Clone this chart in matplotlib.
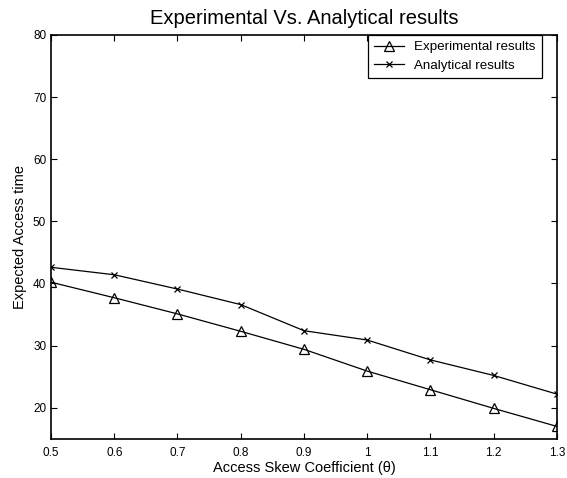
import matplotlib
matplotlib.use('Agg')
import matplotlib.pyplot as plt

plt.rcParams['font.family'] = ['Liberation Sans', 'DejaVu Sans']

# data
theta = [0.5, 0.6, 0.7, 0.8, 0.9, 1.0, 1.1, 1.2, 1.3]
experimental = [40.2, 37.7, 35.1, 32.3, 29.4, 25.9, 22.9, 19.9, 17.0]
analytical = [42.6, 41.4, 39.1, 36.6, 32.4, 30.9, 27.7, 25.2, 22.2]
xticks = [0.5, 0.6, 0.7, 0.8, 0.9, 1.0, 1.1, 1.2, 1.3]
xticklabels = ['0.5', '0.6', '0.7', '0.8', '0.9', '1', '1.1', '1.2', '1.3']
yticks = [20, 30, 40, 50, 60, 70, 80]

fig = plt.figure(figsize=(5.67, 4.78), dpi=100)
ax = fig.add_axes([0.09, 0.082, 0.892, 0.845])

ax.plot(theta, experimental, color='black', lw=0.9, marker='^', ms=6.5,
        mfc='none', mec='black', mew=0.9, label='Experimental results')
ax.plot(theta, analytical, color='black', lw=0.9, marker='x', ms=5,
        mec='black', mew=0.9, label='Analytical results')

ax.set_xlim(0.5, 1.3)
ax.set_ylim(15, 80)
ax.set_xticks(xticks)
ax.set_xticklabels(xticklabels)
ax.set_yticks(yticks)
ax.tick_params(direction='in', top=True, right=True, labelsize=8.5, length=4, width=0.8)
ax.tick_params(axis='x', pad=6)
for s in ax.spines.values():
    s.set_linewidth(1.2)

ax.set_title('Experimental Vs. Analytical results', fontsize=14.5, pad=8)
ax.set_xlabel('Access Skew Coefficient (\u03b8)', fontsize=10.5, labelpad=1)
ax.set_ylabel('Expected Access time', fontsize=10.5, labelpad=4)

leg = ax.legend(loc='upper right', bbox_to_anchor=(491 / 506, 1.0), borderaxespad=0,
                fontsize=9.6, frameon=True, fancybox=False, edgecolor='black',
                framealpha=1, handlelength=2.2, borderpad=0.45, labelspacing=0.45)
leg.get_frame().set_linewidth(0.9)

fig.savefig('out.png', dpi=100)
